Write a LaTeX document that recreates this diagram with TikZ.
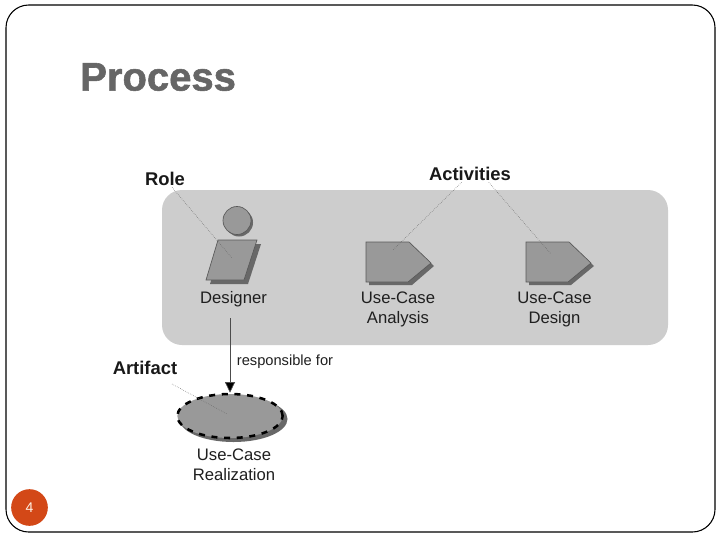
\documentclass[tikz,border=0pt]{standalone}
\usepackage{fontspec}
\setmainfont{Liberation Sans}
\newfontfamily\titlefont[BoldFeatures={FakeBold=1.4}]{Liberation Sans}
\usetikzlibrary{arrows.meta,shapes.geometric}
\definecolor{panelgray}{HTML}{CDCDCD}
\definecolor{shapegray}{HTML}{999999}
\definecolor{shadowgray}{HTML}{686868}
\definecolor{titlegray}{HTML}{666666}
\definecolor{badgered}{HTML}{D34817}
\begin{document}
\begin{tikzpicture}[
    x=0.75pt, y=-0.75pt,
    panel/.style={rectangle, fill=panelgray, rounded corners=15pt, inner sep=0pt,
      minimum width=379.5pt, minimum height=116.25pt},
    lab/.style={font=\fontsize{13.8}{16}\selectfont\bfseries, text=black!90,
      inner sep=1pt},
    capt/.style={font=\fontsize{12.5}{15}\selectfont, text=black!88,
      align=center, inner sep=1pt},
    body/.style={fill=shapegray, draw=black!65, line width=0.5pt},
    dropshade/.style={fill=shadowgray},
    leader/.style={draw=black!60, line width=0.4pt, densely dotted},
    arrow/.style={-{Triangle[width=7.5pt, length=8pt, fill=black]}, draw=black!70,
      line width=0.5pt, shorten <=7.5pt},
    artifact/.style={ellipse, fill=shapegray, draw=black, line width=1.9pt,
      dash pattern=on 4.5pt off 5pt, inner sep=0pt,
      minimum width=79pt, minimum height=33pt}
  ]
  \useasboundingbox (0,0) rectangle (720,540);
  \fill[white] (0,0) rectangle (720,540);
  % slide frame
  \node[rectangle, draw=black, line width=0.8pt, rounded corners=17pt, inner sep=0pt,
    minimum width=531.75pt, minimum height=395.25pt] (frame) at (360.5,268.5) {};
  \node[anchor=west, inner sep=0pt, text=titlegray,
    font=\fontsize{30}{32}\selectfont\titlefont\bfseries] (title) at (80,77) {Process};
  \node[circle, fill=badgered, inner sep=0pt, minimum size=27.5pt,
    text=white!90!orange, font=\fontsize{10.5}{12}\selectfont] (badge) at (29.5,507.5) {4};

  \node[panel] (panel) at (415,267.5) {};

  % role
  \fill[dropshade] (239,222.5) circle [radius=14];
  \draw[body] (237,220.5) circle [radius=14];
  \fill[dropshade] (222,244) -- (261,244) -- (248,284) -- (210,284) -- cycle;
  \draw[body] (218,240) -- (257,240) -- (244,280) -- (206,280) -- cycle;

  % activities
  \fill[dropshade] (369,245) -- (412,245) -- (434,266) -- (412,285) -- (369,285) -- cycle;
  \draw[body] (366,242) -- (409,242) -- (431,263) -- (408,282) -- (366,282) -- cycle;
  \fill[dropshade] (529,245) -- (572,245) -- (594,266) -- (571,285) -- (529,285) -- cycle;
  \draw[body] (526,242) -- (569,242) -- (591,263) -- (568,282) -- (526,282) -- cycle;

  % artifact
  \fill[dropshade] (233.5,419) ellipse [x radius=54, y radius=23];
  \node[artifact] (realization) at (230,416) {};

  \node[capt] (designer) at (233.5,299) {Designer};
  \node[capt] (analysis) at (398,309) {Use-Case\\Analysis};
  \node[capt] (design)   at (554.5,309) {Use-Case\\Design};
  \node[capt] (usecase)  at (234,465) {Use-Case\\Realization};

  \node[lab] (role)       at (165,179) {Role};
  \node[lab] (activities) at (470,174) {Activities};
  \node[lab] (kind)       at (145,368) {Artifact};
  \node[capt, font=\fontsize{11}{13}\selectfont] (resp) at (285,361.5) {responsible for};

  \coordinate (roleend)     at (232,258);
  \coordinate (analysisend) at (393,250);
  \coordinate (designend)   at (551,254);
  \coordinate (kindstart)   at (172,384);
  \coordinate (kindend)     at (227,414);

  \draw[leader] (role) -- (roleend);
  \draw[leader] (activities) -- (analysisend);
  \draw[leader] (activities.-24) -- (designend);
  \draw[leader] (kindstart) -- (kindend);
  \draw[arrow] (designer.south -| realization.north) -- (realization.north);
\end{tikzpicture}
\end{document}
